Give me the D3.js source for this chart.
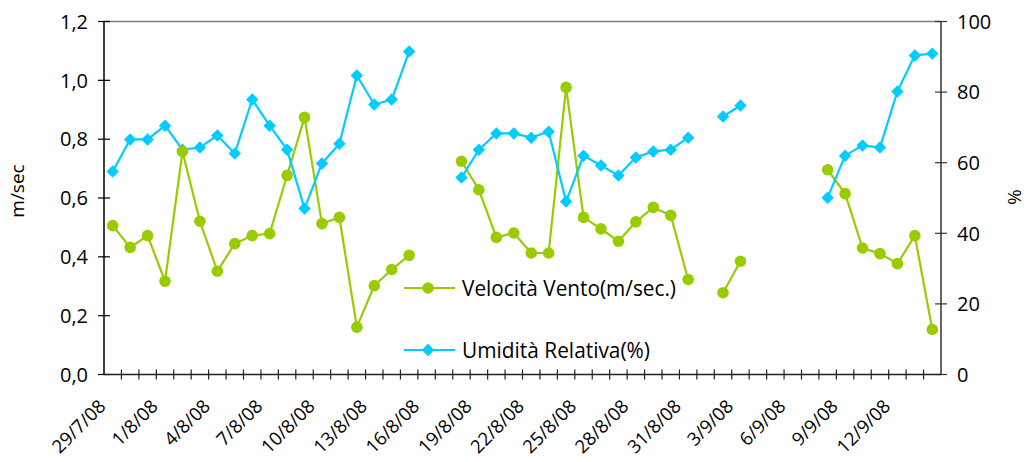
<!DOCTYPE html>
<html>
<head>
<meta charset="utf-8">
<script src="https://cdn.jsdelivr.net/npm/d3@7"></script>
<style>
  body { margin: 0; background: #fff; }
  text { font-family: "Open Sans", "Noto Sans", sans-serif; fill: #000; }
</style>
</head>
<body>
<svg id="chart" width="1029" height="462"></svg>
<script>
// date categories, one per day
const categories = [
  '29/7/08', '30/7/08', '31/7/08',
  '1/8/08', '2/8/08', '3/8/08', '4/8/08', '5/8/08', '6/8/08', '7/8/08', '8/8/08', '9/8/08', '10/8/08',
  '11/8/08', '12/8/08', '13/8/08', '14/8/08', '15/8/08', '16/8/08', '17/8/08', '18/8/08', '19/8/08', '20/8/08',
  '21/8/08', '22/8/08', '23/8/08', '24/8/08', '25/8/08', '26/8/08', '27/8/08', '28/8/08', '29/8/08', '30/8/08',
  '31/8/08', '1/9/08', '2/9/08', '3/9/08', '4/9/08', '5/9/08', '6/9/08', '7/9/08', '8/9/08', '9/9/08',
  '10/9/08', '11/9/08', '12/9/08', '13/9/08', '14/9/08'
];

// wind speed (m/sec), null = missing day
const windSpeed = [
  0.506, 0.432, 0.472, 0.317, 0.758, 0.521, 0.351, 0.445, 0.472, 0.479,
  0.677, 0.874, 0.513, 0.534, 0.161, 0.302, 0.357, 0.405, null, null,
  0.725, 0.628, 0.466, 0.481, 0.413, 0.413, 0.976, 0.534, 0.495, 0.453,
  0.519, 0.568, 0.541, 0.323, null, 0.278, 0.385, null, null, null,
  null, 0.696, 0.615, 0.430, 0.411, 0.377, 0.472, 0.153
];

// relative humidity (%)
const humidity = [
  57.5, 66.6, 66.6, 70.5, 63.7, 64.3, 67.7, 62.6, 77.9, 70.5,
  63.7, 47.0, 59.8, 65.4, 84.7, 76.5, 77.9, 91.5, null, null,
  55.8, 63.7, 68.3, 68.3, 67.1, 68.8, 49.0, 62.0, 59.2, 56.4,
  61.5, 63.2, 63.7, 67.1, null, 73.1, 76.2, null, null, null,
  null, 50.1, 62.0, 64.9, 64.3, 80.2, 90.4, 90.9
];

const leftTicks = [0, 0.2, 0.4, 0.6, 0.8, 1.0, 1.2];
const rightTicks = [0, 20, 40, 60, 80, 100];
const labelEvery = 3;

const seriesNames = ['Velocità Vento(m/sec.)', 'Umidità Relativa(%)'];
const green = '#99cc00';
const blue = '#00ccff';

const svg = d3.select('#chart');
const plotL = 104, plotR = 941, plotT = 21.5, plotB = 374.5;

const x = d3.scaleBand().domain(categories).range([plotL, plotR]).padding(0);
const yL = d3.scaleLinear().domain([0, 1.2]).range([plotB, plotT]);
const yR = d3.scaleLinear().domain([0, 100]).range([plotB, plotT]);
const fmt = d => d3.format('.1f')(d).replace('.', ',');

// top frame line
svg.append('line')
  .attr('x1', plotL).attr('x2', plotR).attr('y1', plotT).attr('y2', plotT)
  .attr('stroke', '#808080').attr('stroke-width', 1.5);

// left axis
const gL = svg.append('g');
gL.append('line').attr('x1', plotL).attr('x2', plotL).attr('y1', plotT).attr('y2', plotB)
  .attr('stroke', '#000').attr('stroke-width', 1.5);
leftTicks.forEach(t => {
  gL.append('line').attr('x1', plotL - 6).attr('x2', plotL + 6)
    .attr('y1', yL(t)).attr('y2', yL(t)).attr('stroke', '#000').attr('stroke-width', 1.2);
  gL.append('text').attr('x', plotL - 16).attr('y', yL(t)).attr('dy', '0.36em')
    .attr('text-anchor', 'end').attr('font-size', 20).text(fmt(t));
});

// right axis
const gR = svg.append('g');
gR.append('line').attr('x1', plotR).attr('x2', plotR).attr('y1', plotT).attr('y2', plotB)
  .attr('stroke', '#333').attr('stroke-width', 1.5);
rightTicks.forEach(t => {
  gR.append('line').attr('x1', plotR - 6).attr('x2', plotR + 6)
    .attr('y1', yR(t)).attr('y2', yR(t)).attr('stroke', '#333').attr('stroke-width', 1.2);
  gR.append('text').attr('x', plotR + 16).attr('y', yR(t)).attr('dy', '0.36em')
    .attr('text-anchor', 'start').attr('font-size', 20).text(t);
});

// bottom axis with ticks between categories
const gB = svg.append('g');
gB.append('line').attr('x1', plotL).attr('x2', plotR).attr('y1', plotB).attr('y2', plotB)
  .attr('stroke', '#222').attr('stroke-width', 1.5);
categories.forEach((c, i) => {
  if (i > 0) {
    gB.append('line').attr('x1', x(c)).attr('x2', x(c))
      .attr('y1', plotB - 5).attr('y2', plotB + 5).attr('stroke', '#222').attr('stroke-width', 1.2);
  }
  if (i % labelEvery === 0) {
    const cx = x(c) + x.bandwidth() / 2;
    gB.append('text')
      .attr('transform', `translate(${cx - 6},${plotB + 33}) rotate(-45)`)
      .attr('text-anchor', 'end').attr('font-size', 18.5)
      .text(c);
  }
});

// axis titles
svg.append('text').attr('transform', 'translate(24,191) rotate(-90)')
  .attr('text-anchor', 'middle').attr('font-size', 19).text('m/sec');
svg.append('text').attr('transform', 'translate(1008,197) rotate(90)')
  .attr('text-anchor', 'middle').attr('font-size', 19).text('%');

const cxOf = i => x(categories[i]) + x.bandwidth() / 2;

// wind line
const windLine = d3.line()
  .defined(d => d !== null)
  .x((d, i) => cxOf(i)).y(d => yL(d));
svg.append('path').datum(windSpeed)
  .attr('d', windLine).attr('fill', 'none').attr('stroke', green).attr('stroke-width', 2.2);

// humidity line
const humLine = d3.line()
  .defined(d => d !== null)
  .x((d, i) => cxOf(i)).y(d => yR(d));
svg.append('path').datum(humidity)
  .attr('d', humLine).attr('fill', 'none').attr('stroke', blue).attr('stroke-width', 2.2);

const diamond = d3.symbol().type(d3.symbolSquare).size(78);

svg.append('g').selectAll('path')
  .data(humidity.map((v, i) => ({ v, i })).filter(d => d.v !== null))
  .enter().append('path')
  .attr('d', diamond)
  .attr('transform', d => `translate(${cxOf(d.i)},${yR(d.v)}) rotate(45)`)
  .attr('fill', blue);

svg.append('g').selectAll('circle')
  .data(windSpeed.map((v, i) => ({ v, i })).filter(d => d.v !== null))
  .enter().append('circle')
  .attr('cx', d => cxOf(d.i)).attr('cy', d => yL(d.v)).attr('r', 5.8)
  .attr('fill', green);

// legend
const legend = svg.append('g');
const legendRows = [
  { name: seriesNames[0], color: green, y: 288, shape: 'circle', len: 214 },
  { name: seriesNames[1], color: blue, y: 350, shape: 'diamond', len: 188 }
];
legendRows.forEach(r => {
  legend.append('line').attr('x1', 404).attr('x2', 455).attr('y1', r.y).attr('y2', r.y)
    .attr('stroke', r.color).attr('stroke-width', 2.2);
  if (r.shape === 'circle') {
    legend.append('circle').attr('cx', 428).attr('cy', r.y).attr('r', 5.8).attr('fill', r.color);
  } else {
    legend.append('path').attr('d', diamond)
      .attr('transform', `translate(428,${r.y}) rotate(45)`).attr('fill', r.color);
  }
  legend.append('text').attr('x', 462).attr('y', r.y).attr('dy', '0.36em')
    .attr('font-size', 21).attr('textLength', r.len).attr('lengthAdjust', 'spacingAndGlyphs')
    .text(r.name);
});
</script>
</body>
</html>
